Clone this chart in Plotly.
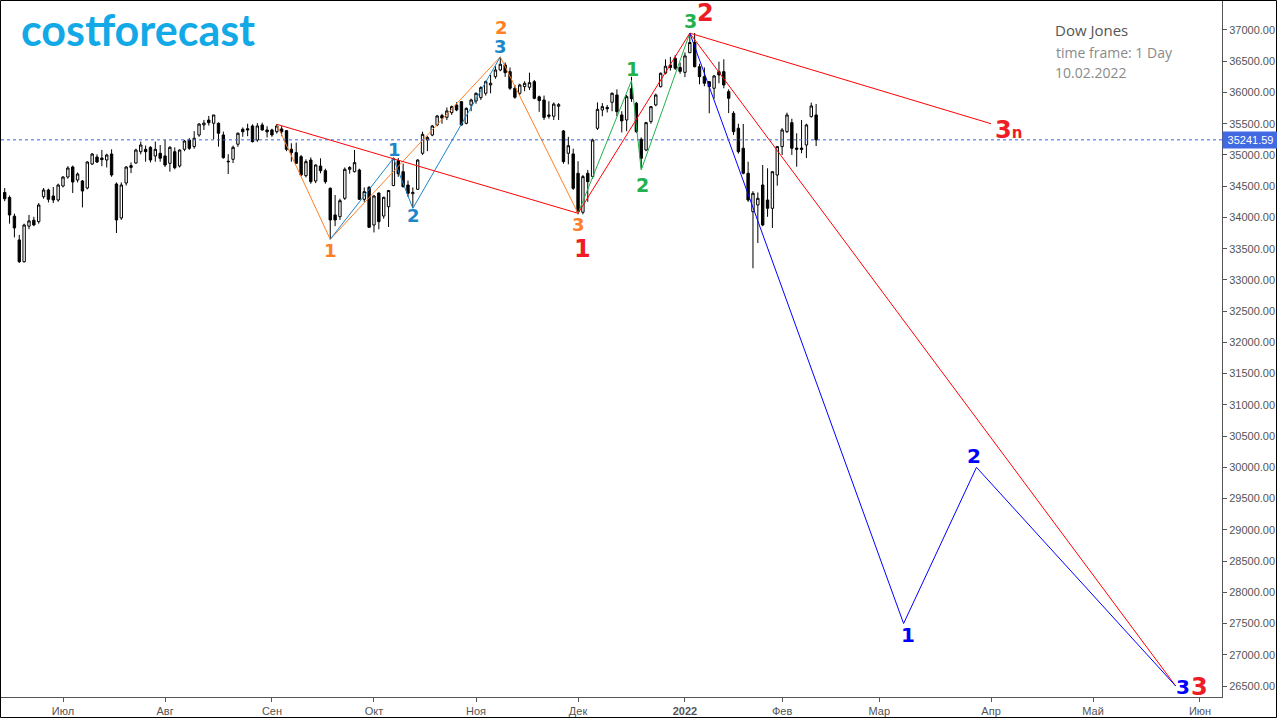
import plotly.graph_objects as go

# ---------------- data ----------------
dates = [
    "2021-06-15", "2021-06-16", "2021-06-17", "2021-06-18", "2021-06-21", "2021-06-22", "2021-06-23",
    "2021-06-24", "2021-06-25", "2021-06-28", "2021-06-29", "2021-06-30",
    "2021-07-01", "2021-07-02", "2021-07-06", "2021-07-07", "2021-07-08", "2021-07-09", "2021-07-12",
    "2021-07-13", "2021-07-14", "2021-07-15", "2021-07-16", "2021-07-19", "2021-07-20", "2021-07-21",
    "2021-07-22", "2021-07-23", "2021-07-26", "2021-07-27", "2021-07-28", "2021-07-29", "2021-07-30",
    "2021-08-02", "2021-08-03", "2021-08-04", "2021-08-05", "2021-08-06", "2021-08-09", "2021-08-10",
    "2021-08-11", "2021-08-12", "2021-08-13", "2021-08-16", "2021-08-17", "2021-08-18", "2021-08-19",
    "2021-08-20", "2021-08-23", "2021-08-24", "2021-08-25", "2021-08-26", "2021-08-27", "2021-08-30",
    "2021-08-31",
    "2021-09-01", "2021-09-02", "2021-09-03", "2021-09-07", "2021-09-08", "2021-09-09", "2021-09-10",
    "2021-09-13", "2021-09-14", "2021-09-15", "2021-09-16", "2021-09-17", "2021-09-20", "2021-09-21",
    "2021-09-22", "2021-09-23", "2021-09-24", "2021-09-27", "2021-09-28", "2021-09-29", "2021-09-30",
    "2021-10-01", "2021-10-04", "2021-10-05", "2021-10-06", "2021-10-07", "2021-10-08", "2021-10-11",
    "2021-10-12", "2021-10-13", "2021-10-14", "2021-10-15", "2021-10-18", "2021-10-19", "2021-10-20",
    "2021-10-21", "2021-10-22", "2021-10-25", "2021-10-26", "2021-10-27", "2021-10-28", "2021-10-29",
    "2021-11-01", "2021-11-02", "2021-11-03", "2021-11-04", "2021-11-05", "2021-11-08", "2021-11-09",
    "2021-11-10", "2021-11-11", "2021-11-12", "2021-11-15", "2021-11-16", "2021-11-17", "2021-11-18",
    "2021-11-19", "2021-11-22", "2021-11-23", "2021-11-24", "2021-11-26", "2021-11-29", "2021-11-30",
    "2021-12-01", "2021-12-02", "2021-12-03", "2021-12-06", "2021-12-07", "2021-12-08", "2021-12-09",
    "2021-12-10", "2021-12-13", "2021-12-14", "2021-12-15", "2021-12-16", "2021-12-17", "2021-12-20",
    "2021-12-21", "2021-12-22", "2021-12-23", "2021-12-27", "2021-12-28", "2021-12-29", "2021-12-30",
    "2021-12-31",
    "2022-01-03", "2022-01-04", "2022-01-05", "2022-01-06", "2022-01-07", "2022-01-10", "2022-01-11",
    "2022-01-12", "2022-01-13", "2022-01-14", "2022-01-18", "2022-01-19", "2022-01-20", "2022-01-21",
    "2022-01-24", "2022-01-25", "2022-01-26", "2022-01-27", "2022-01-28", "2022-01-31",
    "2022-02-01", "2022-02-02", "2022-02-03", "2022-02-04", "2022-02-07", "2022-02-08", "2022-02-09",
    "2022-02-10",
]

opens = [
    34400, 34320, 34020, 33640, 33290, 33860, 33955, 33932, 34332, 34439, 34343, 34279,
    34503, 34647, 34807, 34599, 34583, 34471, 34855, 34967, 34950, 34919, 35015, 34535, 33991, 34551,
    34800, 34871, 35052, 35090, 35122, 34983, 35027,
    34984, 34866, 35052, 34823, 35090, 35239, 35133, 35319, 35480, 35559, 35507, 35507, 35319, 34900,
    34930, 35171, 35411, 35420, 35464, 35239, 35480, 35400,
    35400, 35372, 35416, 35389, 35091, 35037, 34973, 34668, 34919, 34583, 34823, 34748, 34466, 34039,
    34012, 34306, 34770, 34732, 34759, 34290, 34482,
    33879, 34390, 34023, 34172, 34510, 34910, 34732, 34519, 34380, 34450, 35027, 35239, 35319, 35480,
    35630, 35603, 35677, 35800, 35853, 35506, 35800,
    35864, 35917, 35987, 36120, 36253, 36360, 36440, 36333, 36067, 35987, 36093, 36083, 36173, 35930,
    35880, 35640, 35620, 35780, 35384, 35027, 35016,
    34706, 34083, 34706, 34653, 35427, 35720, 35760, 35843, 35960, 35640, 35560, 36060, 35827, 35251,
    35079, 35533, 35800, 36093, 36310, 36440, 36547, 36400,
    36322, 36636, 36800, 36413, 36253, 36173, 36067, 36333, 36333, 36013, 35667, 35427, 35107, 34707,
    34092, 34199, 34519, 34279, 34146, 34679,
    35133, 35373, 35517, 35110, 35110, 35159, 35613, 35640,
]

highs = [
    34470, 34350, 34060, 33720, 33900, 34040, 34010, 34230, 34470, 34460, 34487, 34540,
    34660, 34820, 34830, 34720, 34600, 34900, 35030, 35010, 35080, 35020, 35090, 34560, 34560, 34820,
    34880, 35100, 35213, 35150, 35140, 35213, 35159,
    35240, 35140, 35120, 35090, 35240, 35270, 35380, 35510, 35560, 35624, 35640, 35520, 35373, 35012,
    35150, 35360, 35440, 35500, 35490, 35510, 35517, 35460,
    35420, 35495, 35460, 35400, 35187, 35197, 35000, 34930, 34960, 34850, 34946, 34780, 34480, 34359,
    34300, 34800, 34820, 35080, 34780, 34480, 34500,
    34360, 34400, 34330, 34440, 34960, 34950, 34860, 34590, 34480, 34930, 35373, 35300, 35480, 35640,
    35660, 35760, 35790, 35843, 35860, 35760, 35900,
    36000, 36100, 36190, 36280, 36420, 36568, 36480, 36400, 36120, 36140, 36180, 36317, 36200, 35950,
    35950, 35860, 35840, 35830, 35400, 35290, 35100,
    34900, 34680, 34760, 35260, 35840, 35830, 35800, 36000, 36050, 35700, 35960, 36250, 35850, 35280,
    35530, 35780, 35980, 36320, 36530, 36570, 36600, 36480,
    36640, 36934, 36952, 36460, 36400, 36180, 36280, 36493, 36530, 36050, 35700, 35500, 35495, 34892,
    34420, 34400, 34839, 34786, 34740, 35140,
    35430, 35677, 35580, 35347, 35560, 35500, 35837, 35816,
]

lows = [
    34260, 33900, 33680, 33270, 33280, 33810, 33860, 33900, 34300, 34240, 34230, 34250,
    34480, 34620, 34391, 34560, 34160, 34450, 34840, 34870, 34820, 34800, 34650, 33751, 33960, 34510,
    34710, 34860, 35010, 34892, 34880, 34892, 34892,
    34807, 34732, 34770, 34800, 35060, 35080, 35100, 35290, 35400, 35470, 35251, 35133, 34940, 34695,
    34870, 35130, 35290, 35300, 35200, 35210, 35390, 35280,
    35290, 35340, 35300, 35060, 34892, 34860, 34660, 34640, 34540, 34550, 34707, 34540, 33650, 33860,
    33960, 34280, 34700, 34720, 34280, 34250, 33830,
    33760, 33810, 33980, 33847, 34500, 34650, 34480, 34330, 34151, 34440, 35000, 35060, 35300, 35460,
    35500, 35560, 35640, 35700, 35470, 35490, 35700,
    35820, 35880, 35950, 35987, 36220, 36340, 36250, 36040, 35900, 35960, 36020, 36040, 35890, 35690,
    35560, 35580, 35560, 35560, 34860, 34850, 34440,
    34050, 34050, 34250, 34620, 35400, 35620, 35680, 35700, 35620, 35360, 35380, 35850, 35350, 34786,
    35060, 35500, 35780, 36080, 36290, 36350, 36360, 36300,
    36246, 36636, 36400, 36130, 36100, 35667, 35900, 36147, 36067, 35670, 35320, 35020, 34690, 34250,
    33186, 33591, 33860, 34010, 33831, 34508,
    35000, 35350, 35000, 34812, 35027, 34950, 35600, 35143,
]

closes = [
    34299, 34039, 33831, 33292, 33879, 33945, 33880, 34199, 34439, 34290, 34279, 34519,
    34647, 34791, 34567, 34695, 34423, 34887, 35015, 34887, 34925, 34999, 34679, 33959, 34519, 34807,
    34830, 35079, 35159, 35052, 34919, 35090, 34947,
    34839, 35122, 34796, 35079, 35223, 35106, 35267, 35495, 35510, 35516, 35640, 35347, 34956, 34892,
    35122, 35347, 35372, 35400, 35213, 35464, 35400, 35370,
    35320, 35464, 35372, 35091, 35037, 34866, 34679, 34893, 34572, 34839, 34748, 34572, 33959, 33959,
    34268, 34770, 34800, 34877, 34290, 34412, 33842,
    34343, 33932, 34322, 34430, 34940, 34700, 34492, 34386, 34400, 34919, 35330, 35281, 35464, 35624,
    35590, 35704, 35773, 35720, 35480, 35746, 35880,
    35987, 36077, 36173, 36147, 36360, 36451, 36317, 36067, 35923, 36120, 36147, 36157, 35907, 35870,
    35601, 35619, 35814, 35804, 34893, 35148, 34466,
    34092, 34653, 34572, 35239, 35730, 35773, 35740, 35987, 35693, 35545, 35933, 35900, 35373, 34947,
    35517, 35773, 35960, 36307, 36420, 36400, 36387, 36338,
    36585, 36799, 36413, 36253, 36147, 36093, 36264, 36280, 36120, 35907, 35373, 35052, 34707, 34279,
    34386, 34306, 33879, 34146, 34732, 35133,
    35400, 35640, 35107, 35090, 35090, 35480, 35784, 35241.59,
]

market_holidays = ["2021-07-05", "2021-09-06", "2021-11-25", "2021-12-24", "2022-01-17"]
last_price = 35241.59

# wave lines (vertices)
red_dates = ["2021-09-02", "2021-12-01", "2022-01-04", "2022-05-25"]
red_prices = [35490, 34066, 36950, 26500]
red_alt_dates = ["2022-01-04", "2022-04-01"]
red_alt_prices = [36950, 35500]
orange_dates = ["2021-09-02", "2021-09-20", "2021-11-08", "2021-12-01"]
orange_prices = [35490, 33650, 36570, 34066]
lblue_dates = ["2021-09-20", "2021-10-07", "2021-10-13", "2021-11-08"]
lblue_prices = [33650, 34946, 34146, 36570]
green_dates = ["2021-12-01", "2021-12-16", "2021-12-20", "2022-01-04"]
green_prices = [34066, 36190, 34759, 36950]
blue_dates = ["2022-01-04", "2022-03-08", "2022-03-29", "2022-05-25"]
blue_prices = [36950, 27500, 30000, 26500]

month_ticks = ["2021-07-01", "2021-08-02", "2021-09-01", "2021-10-01", "2021-11-01", "2021-12-01",
               "2022-01-03", "2022-02-01", "2022-03-01", "2022-04-01", "2022-05-02", "2022-06-01"]
month_labels = ["Июл", "Авг", "Сен", "Окт", "Ноя", "Дек", "<b>2022</b>", "Фев", "Мар", "Апр", "Май", "Июн"]
price_ticks = [26500, 27000, 27500, 28000, 28500, 29000, 29500, 30000, 30500, 31000, 31500,
               32000, 32500, 33000, 33500, 34000, 34500, 35000, 35500, 36000, 36500, 37000]

C_ORANGE = "#FF7F27"
C_LBLUE = "#1C86C9"
C_RED = "#FF0000"
C_RED_TXT = "#EE1C25"
C_GREEN = "#22B14C"
C_BLUE = "#0000FF"

# labels: text, date, price, color, size, xshift
wave_labels = [
    ("1", "2021-09-20", 33463, C_ORANGE, 18, 0),
    ("2", "2021-11-08", 37032, C_ORANGE, 18, 1),
    ("3", "2021-12-01", 33880, C_ORANGE, 18, 0),
    ("1", "2021-10-07", 35095, C_LBLUE, 18, 1),
    ("2", "2021-10-13", 34023, C_LBLUE, 18, 1),
    ("3", "2021-11-08", 36728, C_LBLUE, 18, 0),
    ("1", "2021-12-02", 33495, C_RED_TXT, 24, 0),
    ("2", "2022-01-07", 37272, C_RED_TXT, 24, 1),
    ("3", "2022-06-01", 26485, C_RED_TXT, 24, 0),
    ("1", "2021-12-16", 36376, C_GREEN, 19, 1),
    ("2", "2021-12-20", 34519, C_GREEN, 19, 1),
    ("3", "2022-01-04", 37144, C_GREEN, 19, 1),
    ("1", "2022-03-08", 27317, C_BLUE, 20, 4),
    ("2", "2022-03-29", 30182, C_BLUE, 20, -2),
    ("3", "2022-05-26", 26485, C_BLUE, 20, 2),
]

# ---------------- figure ----------------
fig = go.Figure()

fig.add_trace(go.Candlestick(
    x=dates, open=opens, high=highs, low=lows, close=closes,
    increasing=dict(line=dict(color="black", width=1), fillcolor="white"),
    decreasing=dict(line=dict(color="black", width=1), fillcolor="black"),
    whiskerwidth=0, showlegend=False, hoverinfo="skip",
))

for xs, ys, col in [
    (orange_dates, orange_prices, C_ORANGE),
    (lblue_dates, lblue_prices, C_LBLUE),
    (green_dates, green_prices, C_GREEN),
    (red_dates, red_prices, C_RED),
    (red_alt_dates, red_alt_prices, C_RED),
    (blue_dates, blue_prices, C_BLUE),
]:
    fig.add_trace(go.Scatter(x=xs, y=ys, mode="lines", line=dict(color=col, width=1),
                             showlegend=False, hoverinfo="skip"))

annotations = []
for txt, d, p, col, sz, xs in wave_labels:
    annotations.append(dict(x=d, y=p, xref="x", yref="y", text=txt, showarrow=False,
                            xanchor="center", yanchor="middle", xshift=xs, borderpad=0,
                            font=dict(family="DejaVu Sans", size=sz, color=col, weight="bold")))
# 3n label
annotations.append(dict(x="2022-04-01", y=35400, xref="x", yref="y",
                        text="3<span style='font-size:15px'>n</span>", showarrow=False,
                        xanchor="left", yanchor="middle", xshift=3, borderpad=0,
                        font=dict(family="DejaVu Sans", size=24, color=C_RED_TXT, weight="bold")))

# info text
annotations += [
    dict(x=(1053 - 1) / 1221, y=1 - (30 - 1) / 696, xref="paper", yref="paper", text="Dow Jones",
         showarrow=False, xanchor="left", yanchor="middle",
         font=dict(family="Open Sans", size=15, color="#555555")),
    dict(x=(1054 - 1) / 1221, y=1 - (52 - 1) / 696, xref="paper", yref="paper", text="time frame: 1 Day",
         showarrow=False, xanchor="left", yanchor="middle",
         font=dict(family="Open Sans", size=14, color="#8a8a8a")),
    dict(x=(1053 - 1) / 1221, y=1 - (73 - 1) / 696, xref="paper", yref="paper", text="10.02.2022",
         showarrow=False, xanchor="left", yanchor="middle",
         font=dict(family="Open Sans", size=14, color="#8a8a8a")),
    dict(x=(19 - 1) / 1221, y=1 - (29 - 1) / 696, xref="paper", yref="paper", text="costforecast",
         showarrow=False, xanchor="left", yanchor="middle",
         font=dict(family="Lato", size=43, color="#12A9E6", weight="bold")),
    dict(x=1, y=last_price, xref="paper", yref="y", text=f"{last_price:.2f}", showarrow=False,
         xanchor="left", yanchor="middle", bgcolor="#4169E1", width=53, height=14, borderpad=1,
         font=dict(family="Liberation Sans", size=11, color="white")),
]

shapes = [
    dict(type="line", xref="paper", yref="y", x0=0, x1=1, y0=last_price, y1=last_price,
         line=dict(color="#3B63DB", width=1, dash="dot")),
    dict(type="rect", xref="paper", yref="paper",
         x0=(0.5 - 1) / 1221, x1=(1276.5 - 1) / 1221, y0=(697 - 717.5) / 696, y1=1 + 0.5 / 696,
         line=dict(color="black", width=1), fillcolor="rgba(0,0,0,0)"),
]

fig.update_layout(
    width=1277, height=718,
    margin=dict(l=1, r=55, t=1, b=21),
    paper_bgcolor="white", plot_bgcolor="white",
    showlegend=False,
    annotations=annotations, shapes=shapes,
    xaxis=dict(
        type="date",
        range=["2021-06-14 05:45", "2022-06-07 12:43"],
        rangebreaks=[dict(bounds=["sat", "mon"]), dict(values=market_holidays)],
        rangeslider=dict(visible=False),
        tickvals=month_ticks, ticktext=month_labels,
        ticks="outside", ticklen=4, tickcolor="#555555",
        showline=True, linecolor="#555555", linewidth=1,
        showgrid=False, zeroline=False,
        tickfont=dict(family="Liberation Sans", size=11, color="#555555"),
    ),
    yaxis=dict(
        side="right",
        range=[26324, 37464],
        tickvals=price_ticks, tickformat=".2f",
        ticks="outside", ticklen=4, tickcolor="#555555",
        showline=True, linecolor="#555555", linewidth=1,
        showgrid=False, zeroline=False,
        tickfont=dict(family="Liberation Sans", size=11, color="#555555"),
    ),
)

fig.write_html("out.html")
